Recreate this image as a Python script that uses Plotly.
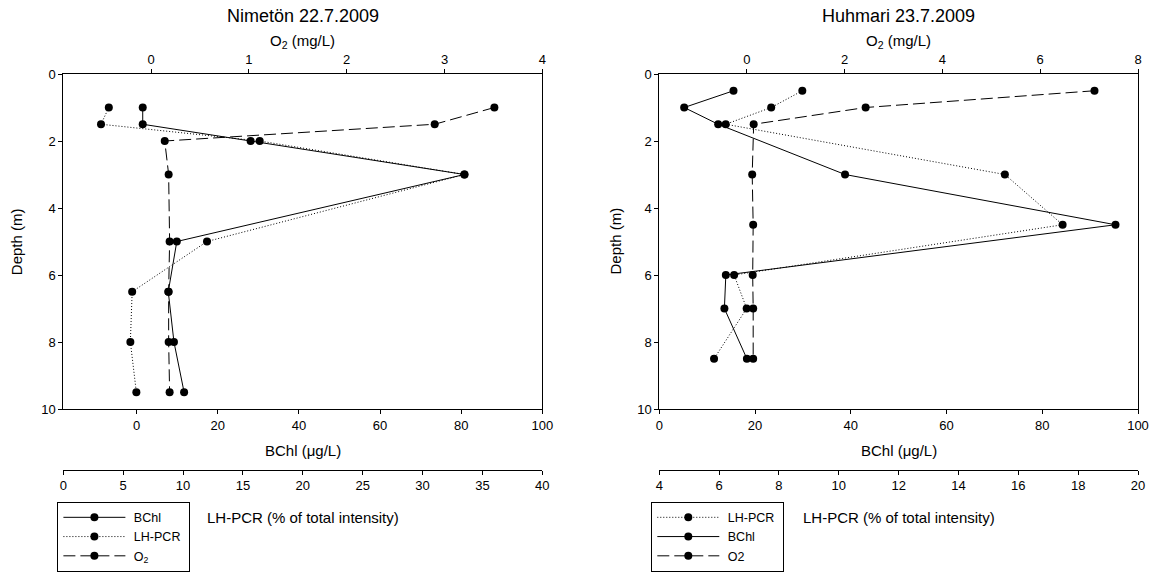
import plotly.graph_objects as go

# ---------------- data ----------------
depth_L = [1, 1.5, 2, 3, 5, 6.5, 8, 9.5]
bchl_L = [1.5, 1.5, 28.1, 80.8, 9.9, 7.8, 9.2, 11.7]
lhpcr_L = [3.8, 3.15, 16.4, 33.5, 12.0, 5.75, 5.6, 6.1]
o2_L = [3.51, 2.90, 0.14, 0.18, 0.19, 0.18, 0.18, 0.19]

depth_R = [0.5, 1, 1.5, 3, 4.5, 6, 7, 8.5]
bchl_R = [15.5, 5.2, 12.3, 38.8, 95.3, 13.9, 13.6, 18.3]
lhpcr_R = [8.78, 7.74, 6.22, 15.55, 17.48, 6.5, 6.92, 5.83]
o2_R = [7.11, 2.43, 0.14, 0.11, 0.13, 0.12, 0.13, 0.13]

title_L = "Nimetön 22.7.2009"
title_R = "Huhmari 23.7.2009"
names_L = ["BChl", "LH-PCR", "O<sub>2</sub>"]
names_R = ["LH-PCR", "BChl", "O2"]

# ---------------- layout geometry ----------------
W, H = 1157, 575
FONT = "Liberation Sans, Arial, sans-serif"


def px(x):
    return x / W


def py(y):
    return 1 - y / H


plot_top, plot_bot = 74, 409
dom_y = [py(plot_bot), py(plot_top)]
dom_L = [px(63.3), px(542.3)]
dom_R = [px(659.3), px(1138)]
lh_axis_y = py(469.5)

line_kw = dict(color="black", width=1)
mk = dict(color="black", size=8, symbol="circle")
NB = "\u00a0"


def lg(name):
    return NB + name + NB


fig = go.Figure()

# left panel
fig.add_trace(go.Scatter(x=bchl_L, y=depth_L, xaxis="x", yaxis="y", name=lg(names_L[0]),
                         mode="lines+markers", line=dict(line_kw, dash="solid"), marker=mk,
                         legend="legend"))
fig.add_trace(go.Scatter(x=lhpcr_L, y=depth_L, xaxis="x3", yaxis="y", name=lg(names_L[1]),
                         mode="lines+markers", line=dict(line_kw, dash="1px,2px"), marker=mk,
                         legend="legend"))
fig.add_trace(go.Scatter(x=o2_L, y=depth_L, xaxis="x2", yaxis="y", name=lg(names_L[2]),
                         mode="lines+markers", line=dict(line_kw, dash="12px,5px"), marker=mk,
                         legend="legend"))

# right panel
fig.add_trace(go.Scatter(x=lhpcr_R, y=depth_R, xaxis="x6", yaxis="y2", name=lg(names_R[0]),
                         mode="lines+markers", line=dict(line_kw, dash="1px,2px"), marker=mk,
                         legend="legend2"))
fig.add_trace(go.Scatter(x=bchl_R, y=depth_R, xaxis="x4", yaxis="y2", name=lg(names_R[1]),
                         mode="lines+markers", line=dict(line_kw, dash="solid"), marker=mk,
                         legend="legend2"))
fig.add_trace(go.Scatter(x=o2_R, y=depth_R, xaxis="x5", yaxis="y2", name=lg(names_R[2]),
                         mode="lines+markers", line=dict(line_kw, dash="12px,5px"), marker=mk,
                         legend="legend2"))

ax_common = dict(showline=True, linecolor="black", linewidth=1, ticks="outside", ticklen=4,
                 tickcolor="black", tickwidth=1, showgrid=False, zeroline=False,
                 automargin=False, tickfont=dict(family=FONT, size=13, color="black"))

leg_common = dict(xanchor="left", yanchor="top", bordercolor="black", borderwidth=1,
                  bgcolor="white", font=dict(family=FONT, size=12.5, color="black"),
                  itemwidth=62, tracegroupgap=0, traceorder="normal")

fig.update_layout(
    template="none",
    width=W, height=H, autosize=False,
    margin=dict(l=0, r=0, t=0, b=0),
    paper_bgcolor="white", plot_bgcolor="white",
    font=dict(family=FONT, color="black", size=12),
    # left
    xaxis=dict(ax_common, domain=dom_L, anchor="y", side="bottom", range=[-18.08, 100],
               tickvals=[0, 20, 40, 60, 80, 100]),
    xaxis2=dict(ax_common, domain=dom_L, anchor="y", overlaying="x", side="top",
                range=[-0.897, 4], tickvals=[0, 1, 2, 3, 4]),
    xaxis3=dict(ax_common, domain=dom_L, anchor="free", overlaying="x", side="bottom",
                position=lh_axis_y, range=[0, 40], tickvals=list(range(0, 41, 5))),
    yaxis=dict(ax_common, domain=dom_y, anchor="x", range=[10, 0], mirror=True,
               tickvals=[0, 2, 4, 6, 8, 10]),
    # right
    xaxis4=dict(ax_common, domain=dom_R, anchor="y2", side="bottom", range=[0, 100],
                tickvals=[0, 20, 40, 60, 80, 100]),
    xaxis5=dict(ax_common, domain=dom_R, anchor="y2", overlaying="x4", side="top",
                range=[-1.79, 8], tickvals=[0, 2, 4, 6, 8]),
    xaxis6=dict(ax_common, domain=dom_R, anchor="free", overlaying="x4", side="bottom",
                position=lh_axis_y, range=[4, 20], tickvals=list(range(4, 21, 2))),
    yaxis2=dict(ax_common, domain=dom_y, anchor="x4", range=[10, 0], mirror=True,
                tickvals=[0, 2, 4, 6, 8, 10]),
    legend=dict(leg_common, x=px(57.4), y=py(501.7)),
    legend2=dict(leg_common, x=px(651.3), y=py(501.7)),
    showlegend=True,
)

cx_L = (63.3 + 542.3) / 2
cx_R = (659.3 + 1138) / 2


def ann(text, x, y, size, angle=0):
    fig.add_annotation(text=text, x=px(x), y=py(y), xref="paper", yref="paper",
                       xanchor="center", yanchor="middle", showarrow=False,
                       textangle=angle, font=dict(family=FONT, size=size, color="black"))


ann(title_L, cx_L, 16, 18)
ann(title_R, cx_R, 16, 18)
for cx in (cx_L, cx_R):
    ann("O<sub>2</sub> (mg/L)", cx, 41.5, 15)
    ann("BChl (μg/L)", cx, 450, 15)
    ann("LH-PCR (% of total intensity)", cx, 517.5, 15)
ann("Depth (m)", 16.7, 241.5, 15, -90)
ann("Depth (m)", 615, 241.5, 15, -90)

fig.write_html("out.html")
